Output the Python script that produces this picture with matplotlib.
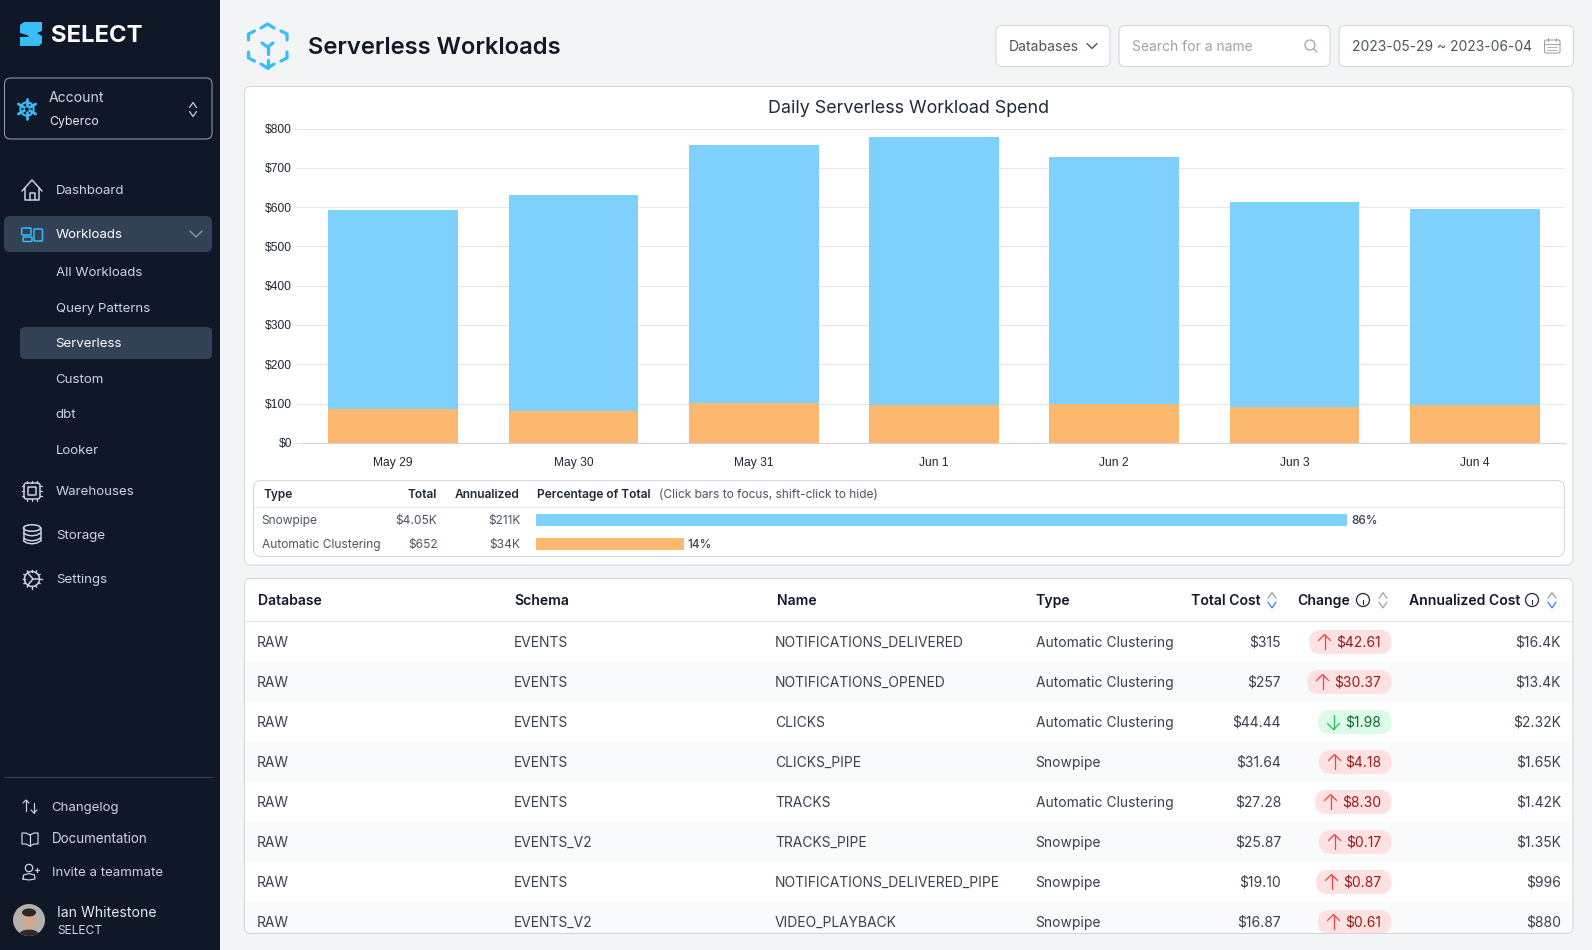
import matplotlib
matplotlib.use('Agg')
from matplotlib import pyplot as plt
from matplotlib.patches import FancyBboxPatch, Rectangle, Circle, Ellipse, Polygon
import numpy as np

plt.rcParams['font.family'] = ['Inter', 'DejaVu Sans']

W, H = 1592, 950

# chart data
days = ['May 29', 'May 30', 'May 31', 'Jun 1', 'Jun 2', 'Jun 3', 'Jun 4']
clustering = [86, 80, 101, 95, 100, 91, 95]
snowpipe = [507, 552, 658, 684, 628, 521, 501]
yticks = [0, 100, 200, 300, 400, 500, 600, 700, 800]

# legend table
leg_types = ['Snowpipe', 'Automatic Clustering']
leg_totals = ['$4.05K', '$652']
leg_annual = ['$211K', '$34K']
leg_labels = ['86%', '14%']
leg_bars = [84.5, 15.4]

# workloads table
databases = ['RAW'] * 8
schemas = ['EVENTS', 'EVENTS', 'EVENTS', 'EVENTS', 'EVENTS', 'EVENTS_V2', 'EVENTS', 'EVENTS_V2']
names = ['NOTIFICATIONS_DELIVERED', 'NOTIFICATIONS_OPENED', 'CLICKS', 'CLICKS_PIPE', 'TRACKS',
         'TRACKS_PIPE', 'NOTIFICATIONS_DELIVERED_PIPE', 'VIDEO_PLAYBACK']
types = ['Automatic Clustering', 'Automatic Clustering', 'Automatic Clustering', 'Snowpipe',
         'Automatic Clustering', 'Snowpipe', 'Snowpipe', 'Snowpipe']
costs = ['$315', '$257', '$44.44', '$31.64', '$27.28', '$25.87', '$19.10', '$16.87']
changes = ['$42.61', '$30.37', '$1.98', '$4.18', '$8.30', '$0.17', '$0.87', '$0.61']
change_up = [True, True, False, True, True, True, True, True]
annualized = ['$16.4K', '$13.4K', '$2.32K', '$1.65K', '$1.42K', '$1.35K', '$996', '$880']
pill_lefts = [1309, 1307, 1318, 1319, 1315, 1319, 1316, 1318]

BLUE = '#7dd1fc'
ORANGE = '#fdb870'
SKY = '#38bdf8'
NAVY = '#101828'
NAV_TXT = '#cbd5e1'
BORDER = '#d1d5db'

fig = plt.figure(figsize=(W / 100, H / 100), dpi=100, facecolor='#f3f4f6')
ui = fig.add_axes([0, 0, 1, 1], zorder=0)
ui.set_xlim(0, W)
ui.set_ylim(H, 0)
ui.axis('off')


def t(x, y, s, px=14, color='#374151', ha='left', weight='normal', **kw):
    return ui.text(x, y + 0.36 * px, s, fontsize=px * 0.72, color=color, ha=ha, va='baseline',
                   fontweight=weight, **kw)


def box(x0, y0, x1, y1, r=5, fc='white', ec='none', lw=1, z=1):
    p = FancyBboxPatch((x0, y0), x1 - x0, y1 - y0, boxstyle='round,pad=0,rounding_size=%s' % r,
                       fc=fc, ec=ec, lw=lw * 0.72, zorder=z)
    ui.add_patch(p)
    return p


def line(xs, ys, color, lw=1.5, z=3):
    ui.plot(xs, ys, color=color, lw=lw * 0.72, zorder=z, solid_capstyle='round', solid_joinstyle='round')


def chevron(x, y, hw, hh, color, up=False, lw=1.5):
    d = -1 if up else 1
    line([x - hw, x, x + hw], [y - d * hh, y + d * hh, y - d * hh], color, lw)


# sidebar
ui.add_patch(Rectangle((0, 0), 220, H, fc=NAVY, ec='none', zorder=1))
ui.add_patch(Polygon([(24, 22), (42, 22), (42, 31), (37, 33), (42, 36), (42, 43), (39, 46), (20, 46),
                      (20, 37), (29, 37), (27, 35), (20, 33), (20, 25)], fc=SKY, ec='none', zorder=2))
ui.text(51, 42.5, 'SELECT', fontsize=23.8 * 0.72, fontweight='bold', color='white', zorder=3)

box(4.5, 78, 212, 139, r=6, fc='none', ec='#94a3b8', lw=1, z=2)
for a in np.radians(np.arange(30, 360, 60)):
    cx, cy = 27 + 3 * np.cos(a), 109 + 3 * np.sin(a)
    ex, ey = 27 + 10 * np.cos(a), 109 + 10 * np.sin(a)
    line([cx, ex], [cy, ey], SKY, 2.8)
    mx, my = 27 + 7 * np.cos(a), 109 + 7 * np.sin(a)
    for b in (a + 1.9, a - 1.9):
        line([mx, mx + 3.2 * np.cos(b)], [my, my + 3.2 * np.sin(b)], SKY, 2)
t(49, 97, 'Account', 14, NAV_TXT)
t(49, 121, 'Cyberco', 12.3, '#e2e8f0')
chevron(193, 105, 3.5, 2.5, '#cbd5e1', up=True, lw=1.2)
chevron(193, 114, 3.5, 2.5, '#cbd5e1', lw=1.2)

box(4, 216, 212, 252, r=6, fc='#334155', z=2)
box(20, 327, 212, 359, r=5, fc='#334155', z=2)
chevron(196, 234, 6, 3, '#94a3b8', lw=1.2)

for label, y, col in [('Dashboard', 189.5, NAV_TXT), ('Workloads', 233.3, 'white'), ('Warehouses', 490.3, NAV_TXT),
                      ('Storage', 534.3, NAV_TXT), ('Settings', 578.3, NAV_TXT)]:
    t(56, y, label, 13.3, col, zorder=3)
for label, y, col in [('All Workloads', 271.3, NAV_TXT), ('Query Patterns', 307.3, NAV_TXT),
                      ('Serverless', 342.3, 'white'), ('Custom', 378.5, NAV_TXT), ('dbt', 413.3, NAV_TXT),
                      ('Looker', 449.5, NAV_TXT)]:
    t(55.7, y, label, 13.3, col, zorder=3)

# sidebar icons
ic = '#cbd5e1'
line([22, 32, 42], [191, 180, 191], ic)
line([25, 25, 39, 39], [188, 199.5, 199.5, 188], ic)
line([29.5, 29.5, 34.5, 34.5], [199.5, 193, 193, 199.5], ic)
box(21.7, 228, 31, 235, r=1, fc='none', ec=SKY, lw=1.5, z=3)
box(23, 237, 32, 241.5, r=1, fc='none', ec=SKY, lw=1.5, z=3)
box(34, 229, 42.5, 241, r=1, fc='none', ec=SKY, lw=1.5, z=3)
box(24, 483, 40, 499, r=2.5, fc='none', ec=ic, lw=1.5, z=3)
box(28, 487, 36, 495, r=0.5, fc='none', ec=ic, lw=1.5, z=3)
for d in (-5, 0, 5):
    line([32 + d, 32 + d], [481, 483], ic, 1.2)
    line([32 + d, 32 + d], [499, 501], ic, 1.2)
    line([22, 24], [491 + d, 491 + d], ic, 1.2)
    line([40, 42], [491 + d, 491 + d], ic, 1.2)
ui.add_patch(Ellipse((32, 528), 17, 6.5, fc='none', ec=ic, lw=1.1, zorder=3))
line([23.5, 23.5], [528, 541], ic)
line([40.5, 40.5], [528, 541], ic)
for yy in (533, 538, 541):
    xs = np.array([23.5, 27, 32, 37, 40.5])
    line(xs, yy + np.array([0, 2, 2.8, 2, 0]), ic)
ui.add_patch(Circle((32, 579), 7.5, fc='none', ec=ic, lw=1.1, zorder=3))
for a in np.radians(np.arange(0, 360, 30)):
    line([32 + 7.5 * np.cos(a), 32 + 9.5 * np.cos(a)], [579 + 7.5 * np.sin(a), 579 + 9.5 * np.sin(a)], ic, 1.4)
line([27.5, 33, 39.5], [572.5, 579, 579], ic)
line([33, 27.5], [579, 585.5], ic)

ui.plot([4, 212], [777, 777], color='#334155', lw=0.8, zorder=2)
t(51.5, 806, 'Changelog', 13.2, NAV_TXT, zorder=3)
t(51.5, 838.5, 'Documentation', 13.4, NAV_TXT, zorder=3)
t(51.5, 871.5, 'Invite a teammate', 13.2, NAV_TXT, zorder=3)
line([26, 26], [800, 811], ic, 1.2)
line([23, 26, 29], [803, 800, 803], ic, 1.2)
line([34, 34], [803, 813], ic, 1.2)
line([31, 34, 37], [810, 813, 810], ic, 1.2)
line([30, 30], [835, 846], ic, 1.2)
line([30, 26, 22, 22, 26, 30, 34, 38, 38, 34, 30], [835, 833, 833, 844, 844, 846, 844, 844, 833, 833, 835], ic, 1.2)
ui.add_patch(Circle((29, 868), 3.7, fc='none', ec=ic, lw=0.9, zorder=3))
line([23, 23.5, 29, 34.5, 35, 29, 23], [879, 875, 873.5, 875, 879, 880, 879], ic, 1.2)
line([35, 39], [870, 870], ic, 1.2)
line([37, 37], [868, 872], ic, 1.2)
avatar = Circle((29, 920), 16, fc='#b4b1aa', ec='none', zorder=2)
ui.add_patch(avatar)
for patch in [Ellipse((29, 935), 20, 11, fc='#2f2a28', ec='none', zorder=3),
              Ellipse((29, 921), 13, 17, fc='#d0a88e', ec='none', zorder=3),
              Ellipse((29, 912.5), 14, 8, fc='#2d2622', ec='none', zorder=4)]:
    ui.add_patch(patch)
    patch.set_clip_path(avatar)
t(57, 912, 'Ian Whitestone', 14, '#e2e8f0', zorder=3)
t(57, 930, 'SELECT', 12, NAV_TXT, zorder=3)

# page header
for xs, ys in [([261, 267.5, 274], [28, 24, 28]), ([248.5, 248.5, 254.5], [40, 34, 31]),
               ([281, 287, 287], [31, 34, 40]), ([248.5, 248.5, 254.5], [52, 58, 61]),
               ([281, 287, 287], [61, 58, 52]), ([261, 267.5, 274], [64, 68, 64]),
               ([267.5, 267.5], [60, 68]), ([262, 267.5, 273], [43, 47, 43]), ([267.5, 267.5], [47, 54])]:
    line(xs, ys, SKY, 3.2)
t(308.5, 45.5, 'Serverless Workloads', 23.8, '#111827', weight='semibold')

box(996, 25.5, 1110, 66.5, r=6, ec=BORDER)
box(1119, 25.5, 1330, 66.5, r=6, ec=BORDER)
box(1339, 25.5, 1573.5, 66.5, r=6, ec=BORDER)
t(1009, 46, 'Databases', 14, '#4b5563')
chevron(1092, 46, 5, 2.5, '#4b5563', lw=1.4)
t(1132.5, 46, 'Search for a name', 13.85, '#9ca3af')
ui.add_patch(Circle((1310, 45), 5, fc='none', ec='#9ca3af', lw=0.9, zorder=3))
line([1314, 1317], [49, 52], '#9ca3af', 1.2)
t(1352.5, 46, '2023-05-29 ~ 2023-06-04', 13.82, '#4b5563')
box(1544.5, 40, 1560, 53, r=1.5, fc='none', ec='#9ca3af', lw=1.1, z=3)
line([1544.5, 1560], [43.5, 43.5], '#9ca3af', 1)
line([1548, 1548], [38, 41], '#9ca3af', 1)
line([1556, 1556], [38, 41], '#9ca3af', 1)
line([1547, 1557], [47, 47], '#9ca3af', 0.8)
line([1547, 1557], [50, 50], '#9ca3af', 0.8)

# chart card
box(244.5, 86.5, 1573, 565, r=6, ec=BORDER)
t(908.7, 106.5, 'Daily Serverless Workload Spend', 17.9, '#1f2937', ha='center')

ax = fig.add_axes([303 / W, 1 - 442.8 / H, (1565 - 303) / W, (442.8 - 128.6) / H], zorder=1)
ax.patch.set_alpha(0)
x = np.arange(len(days))
ax.bar(x, clustering, width=0.72, color=ORANGE)
ax.bar(x, snowpipe, width=0.72, bottom=clustering, color=BLUE)
ax.set_xlim(-0.5, 6.5)
ax.set_ylim(0, 800)
ax.set_xticks(x)
ax.set_xticklabels(days, family='Liberation Sans', fontsize=12 * 0.72, color='#1f2937')
ax.set_yticks(yticks)
ax.set_yticklabels(['$%d' % v for v in yticks], family='Liberation Sans', fontsize=12 * 0.72, color='#1f2937')
ax.tick_params(axis='x', length=0, pad=10)
ax.tick_params(axis='y', length=5.8, width=0.8, color='#e5e7eb', pad=2.2)
ax.grid(axis='y', color='#e5e7eb', lw=0.8)
ax.set_axisbelow(True)
for s in ['top', 'left', 'right']:
    ax.spines[s].set_visible(False)
ax.spines['bottom'].set_color('#d1d5db')

# legend table
box(253.5, 480.5, 1564.5, 556.5, r=8, ec=BORDER, z=2)
ui.plot([253.5, 1564.5], [507, 507], color='#e5e7eb', lw=0.8, zorder=3)
t(263, 494, 'Type', 12, '#1f2937', weight='semibold', zorder=3)
t(436.5, 494, 'Total', 12, '#1f2937', ha='right', weight='semibold', zorder=3)
t(519.5, 494, 'Annualized', 12, '#1f2937', ha='right', weight='semibold', zorder=3)
t(537, 494, 'Percentage of Total', 12, '#1f2937', weight='semibold', zorder=3)
t(659, 494, '(Click bars to focus, shift-click to hide)', 11.9, '#4b5563', zorder=3)
leg_y = [520, 544]
for i in range(2):
    t(261.5, leg_y[i], leg_types[i], 12, '#4b5563', zorder=3)
    t(437.5, leg_y[i], leg_totals[i], 12, '#4b5563', ha='right', zorder=3)
    t(520.5, leg_y[i], leg_annual[i], 12, '#4b5563', ha='right', zorder=3)

lx = fig.add_axes([536 / W, 1 - 556 / H, 960 / W, 48 / H], zorder=1)
lx.barh([0, 1], leg_bars, height=0.5, color=[BLUE, ORANGE])
lx.set_xlim(0, 100)
lx.set_ylim(1.5, -0.5)
lx.axis('off')
for i in range(2):
    lx.annotate(leg_labels[i], (leg_bars[i], i), xytext=(2.8, 0), textcoords='offset points', va='center_baseline',
                fontsize=11.8 * 0.72, color='#374151', fontweight='medium')

# workloads table
card = box(244.5, 578.5, 1573, 933.5, r=6)
for i in range(8):
    if i % 2 == 1:
        r = Rectangle((244.5, 622 + 40 * i), 1328.5, 40, fc='#f9fafb', ec='none', zorder=1.5)
        ui.add_patch(r)
        r.set_clip_path(card)
box(244.5, 578.5, 1573, 933.5, r=6, fc='none', ec=BORDER, z=6)
ui.plot([244.5, 1573], [621, 621], color='#e5e7eb', lw=0.8, zorder=2)

for hx, label in [(258, 'Database'), (514.3, 'Schema'), (776.5, 'Name'), (1035.5, 'Type')]:
    t(hx, 600, label, 14, '#111827', weight='semibold', zorder=3)
t(1260.5, 600, 'Total Cost', 14, '#111827', ha='right', weight='semibold', zorder=3)
t(1350.5, 600, 'Change', 14, '#111827', ha='right', weight='semibold', zorder=3)
t(1520, 600, 'Annualized Cost', 14, '#111827', ha='right', weight='semibold', zorder=3)
for sx, active in [(1272, True), (1383, False), (1552, True)]:
    chevron(sx, 595.5, 4, 2.8, '#9ca3af', up=True, lw=1.3)
    chevron(sx, 605, 4, 2.8, '#3b82f6' if active else '#9ca3af', lw=1.3)
for ix in (1363, 1532):
    ui.add_patch(Circle((ix, 600), 6.5, fc='none', ec='#1f2937', lw=0.9, zorder=3))
    line([ix, ix], [599.5, 603.5], '#1f2937', 1.2)
    line([ix, ix], [596.7, 596.8], '#1f2937', 1.4)

for i in range(8):
    y = 642 + 40 * i
    t(257, y, databases[i], 13.85, zorder=3)
    t(514, y, schemas[i], 13.85, zorder=3)
    t(775, y, names[i], 13.85, zorder=3)
    t(1035.5, y, types[i], 13.85, zorder=3)
    t(1281, y, costs[i], 13.85, ha='right', zorder=3)
    t(1561, y, annualized[i], 13.85, ha='right', zorder=3)
    up = change_up[i]
    box(pill_lefts[i], y - 12, 1391.5, y + 12, r=12, fc='#fee2e2' if up else '#dcfce7', z=3)
    t(1381, y, changes[i], 13.85, '#991b1b' if up else '#166534', ha='right', zorder=4)
    ac = '#ef4444' if up else '#22c55e'
    ax_x = pill_lefts[i] + 15.5
    line([ax_x, ax_x], [y - 7, y + 7], ac, 1.3, z=4)
    chevron(ax_x, y - 4.5 if up else y + 4.5, 6, 3, ac, up=up, lw=1.3)

plt.savefig('out.png', dpi=100, facecolor=fig.get_facecolor())
